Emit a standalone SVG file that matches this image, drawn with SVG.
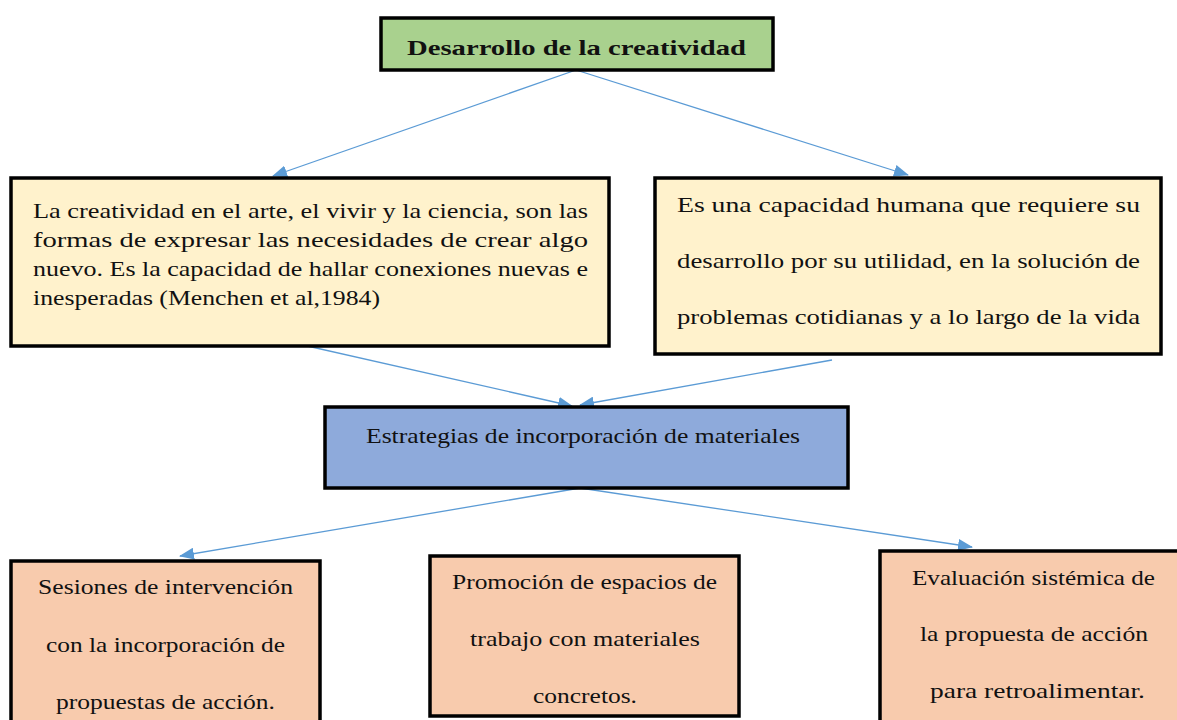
<svg xmlns="http://www.w3.org/2000/svg" width="1177" height="720" viewBox="0 0 1177 720">
<style>
text{font-family:"Liberation Serif","DejaVu Serif",serif;fill:#111;font-size:21px;}
.box{stroke:#000;stroke-width:3.5;}
.con{stroke:#5B9BD5;stroke-width:1.3;fill:none;marker-end:url(#ah);}
</style>
<defs>
<marker id="ah" markerWidth="15" markerHeight="12" refX="14" refY="6" orient="auto" markerUnits="userSpaceOnUse">
<path d="M0,0 L15,6 L0,12 z" fill="#5B9BD5"/>
</marker>
</defs>
<rect width="1177" height="720" fill="#fff"/>
<g id="connectors">
<line class="con" x1="576" y1="70" x2="273" y2="176"/>
<line class="con" x1="576" y1="70" x2="908" y2="175"/>
<line class="con" x1="294" y1="343" x2="572" y2="406"/>
<line class="con" x1="832" y1="360" x2="580" y2="405"/>
<line class="con" x1="580" y1="488" x2="180" y2="556"/>
<line class="con" x1="580" y1="488" x2="972" y2="547"/>
</g>
<g id="top">
<rect class="box" x="381" y="18" width="392" height="52" fill="#A9D18E"/>
<text x="407" y="55" font-size="27" font-weight="bold" textLength="339" lengthAdjust="spacingAndGlyphs">Desarrollo de la creatividad</text>
</g>
<g id="left">
<rect class="box" x="11" y="178" width="598" height="168" fill="#FFF2CC"/>
<text x="33" y="218" textLength="555" lengthAdjust="spacingAndGlyphs">La creatividad en el arte, el vivir y la ciencia, son las</text>
<text x="33" y="247" textLength="555" lengthAdjust="spacingAndGlyphs">formas de expresar las necesidades de crear algo</text>
<text x="33" y="276" textLength="555" lengthAdjust="spacingAndGlyphs">nuevo. Es la capacidad de hallar conexiones nuevas e</text>
<text x="33" y="305" textLength="347" lengthAdjust="spacingAndGlyphs">inesperadas (Menchen et al,1984)</text>
</g>
<g id="right">
<rect class="box" x="655" y="178" width="506" height="176" fill="#FFF2CC"/>
<text x="677" y="212" textLength="463" lengthAdjust="spacingAndGlyphs">Es una capacidad humana que requiere su</text>
<text x="677" y="268" textLength="463" lengthAdjust="spacingAndGlyphs">desarrollo por su utilidad, en la solución de</text>
<text x="677" y="324" textLength="463" lengthAdjust="spacingAndGlyphs">problemas cotidianas y a lo largo de la vida</text>
</g>
<g id="middle">
<rect class="box" x="325" y="407" width="523" height="81" fill="#8EAADB"/>
<text x="366" y="443" textLength="434" lengthAdjust="spacingAndGlyphs">Estrategias de incorporación de materiales</text>
</g>
<g id="b1">
<rect class="box" x="11" y="561" width="309" height="170" fill="#F8CBAD"/>
<text x="38" y="594" textLength="255" lengthAdjust="spacingAndGlyphs">Sesiones de intervención</text>
<text x="46" y="652" textLength="239" lengthAdjust="spacingAndGlyphs">con la incorporación de</text>
<text x="56" y="709" textLength="219" lengthAdjust="spacingAndGlyphs">propuestas de acción.</text>
</g>
<g id="b2">
<rect class="box" x="430" y="556" width="309" height="160" fill="#F8CBAD"/>
<text x="452" y="589" textLength="265" lengthAdjust="spacingAndGlyphs">Promoción de espacios de</text>
<text x="470" y="646" textLength="230" lengthAdjust="spacingAndGlyphs">trabajo con materiales</text>
<text x="533" y="703" textLength="104" lengthAdjust="spacingAndGlyphs">concretos.</text>
</g>
<g id="b3">
<rect class="box" x="880" y="551" width="310" height="180" fill="#F8CBAD"/>
<text x="912" y="585" textLength="243" lengthAdjust="spacingAndGlyphs">Evaluación sistémica de</text>
<text x="920" y="641" textLength="228" lengthAdjust="spacingAndGlyphs">la propuesta de acción</text>
<text x="930" y="698" textLength="215" lengthAdjust="spacingAndGlyphs">para retroalimentar.</text>
</g>
</svg>
